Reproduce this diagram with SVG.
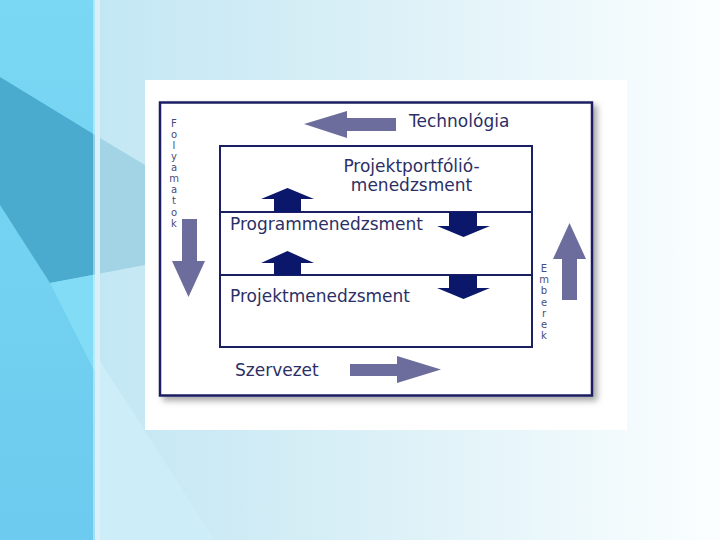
<svg xmlns="http://www.w3.org/2000/svg" width="720" height="540" viewBox="0 0 720 540">
<style>
.lbl{font-family:"DejaVu Sans","Liberation Sans",sans-serif;font-size:17px;fill:#2c2f66}
.vt{font-family:"DejaVu Sans","Liberation Sans",sans-serif;font-size:10px;fill:#4a4c7c;text-anchor:middle}
.big{fill:#6d6d9d}
.dark{fill:#0b176b}
.box{fill:none;stroke:#1a1f62;stroke-width:2}
</style>
<defs>
<linearGradient id="bg" x1="0" y1="0" x2="1" y2="0">
<stop offset="0.13" stop-color="#c2e7f4"/>
<stop offset="0.45" stop-color="#d6eef6"/>
<stop offset="0.75" stop-color="#eaf7fb"/>
<stop offset="1" stop-color="#fbfeff"/>
</linearGradient>
<linearGradient id="cy" x1="0" y1="0" x2="0" y2="1">
<stop offset="0" stop-color="#7ad8f4"/>
<stop offset="1" stop-color="#6ccbee"/>
</linearGradient>
<filter id="sh" x="-5%" y="-5%" width="115%" height="115%">
<feDropShadow dx="4" dy="4" stdDeviation="3" flood-color="#000" flood-opacity="0.35"/>
</filter>
</defs>
<g id="background">
<rect x="0" y="0" width="720" height="540" fill="url(#bg)"/>
<rect x="0" y="0" width="95" height="540" fill="url(#cy)"/>
<polygon points="0,77 95,135 95,274.5 50,283 0,205" fill="#4aabcf"/>
<polygon points="50,283 95,274.5 95,372" fill="#82dcf6"/>
<polygon points="100,138 145,165 145,265 100,273.5" fill="#a3d4e5"/>
<polygon points="100,361 215,540 100,540" fill="#cdeef9"/>
<rect x="93" y="0" width="7" height="540" fill="#ffffff" opacity="0.4"/>
</g>
<g id="panel">
<rect x="145" y="80" width="482" height="350" fill="#ffffff"/>
<rect x="160" y="102.5" width="432" height="293" fill="#ffffff" stroke="#1a1f62" stroke-width="2.5" filter="url(#sh)"/>
</g>
<g id="inner-box">
<rect class="box" x="220" y="146" width="312" height="201"/>
<line class="box" x1="220" y1="212" x2="532" y2="212"/>
<line class="box" x1="220" y1="275" x2="532" y2="275"/>
</g>
<g id="connectors">
<polygon class="big" points="304,124 347,111 347,118 396,118 396,131 347,131 347,138"/>
<polygon class="big" points="350,364 397,364 397,356 441,369.5 397,383 397,376 350,376"/>
<polygon class="big" points="182,219 197,219 197,261 205,261 188.5,297 172,261 182,261"/>
<polygon class="big" points="562,300 562,259 553,259 569.5,223 586,259 577,259 577,300"/>
<polygon class="dark" points="274,212 274,199 261,199 287.5,188 314,199 301,199 301,212"/>
<polygon class="dark" points="274,275 274,263 261,263 287.5,251 314,263 301,263 301,275"/>
<polygon class="dark" points="449,212 477,212 477,226 490,226 463.5,237 437,226 449,226"/>
<polygon class="dark" points="449,275 477,275 477,288 490,288 463.5,299 437,288 449,288"/>
</g>
<g id="technologia"><text class="lbl" x="409" y="127">Technológia</text></g>
<g id="portfolio"><text class="lbl" x="411.5" y="172" text-anchor="middle">Projektportfólió-</text><text class="lbl" x="411.5" y="191" text-anchor="middle">menedzsment</text></g>
<g id="program"><text class="lbl" x="230" y="230">Programmenedzsment</text></g>
<g id="projekt"><text class="lbl" x="230" y="302">Projektmenedzsment</text></g>
<g id="szervezet"><text class="lbl" x="235" y="376">Szervezet</text></g>
<g id="folyamatok">
<text class="vt" x="174" y="127">F</text><text class="vt" x="174" y="138">o</text><text class="vt" x="174" y="149">l</text><text class="vt" x="174" y="160">y</text><text class="vt" x="174" y="171">a</text><text class="vt" x="174" y="182">m</text><text class="vt" x="174" y="193">a</text><text class="vt" x="174" y="204">t</text><text class="vt" x="174" y="216">o</text><text class="vt" x="174" y="227">k</text>
</g>
<g id="emberek">
<text class="vt" x="544" y="272">E</text><text class="vt" x="544" y="283">m</text><text class="vt" x="544" y="294">b</text><text class="vt" x="544" y="306">e</text><text class="vt" x="544" y="317">r</text><text class="vt" x="544" y="328">e</text><text class="vt" x="544" y="339">k</text>
</g>
</svg>
